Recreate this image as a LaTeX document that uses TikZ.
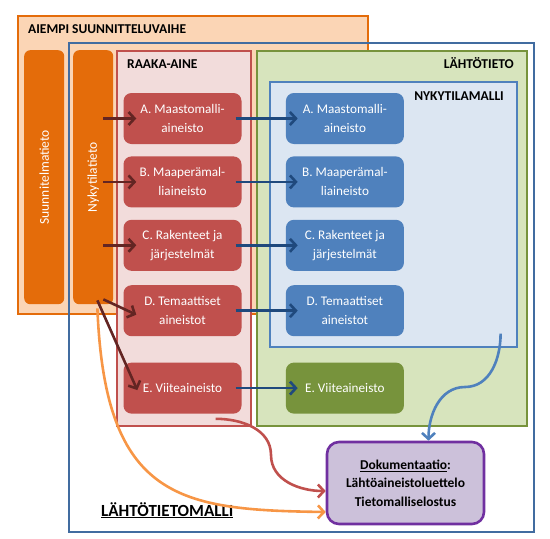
\documentclass[tikz,border=0pt]{standalone}
\usepackage{fontspec}
\setmainfont{Carlito}
\usepackage{xcolor}
\usetikzlibrary{positioning}
\usetikzlibrary{arrows.meta}
\definecolor{aiempi1}{RGB}{251, 213, 181}
\definecolor{aiempi2}{RGB}{228, 108, 10}
\definecolor{raaka1}{RGB}{242, 220, 219}
\definecolor{raaka2}{RGB}{192, 80, 77}
\definecolor{lahto1}{RGB}{215, 228, 189}
\definecolor{lahto2}{RGB}{119, 147, 60}
\definecolor{nyky1}{RGB}{220, 230, 242}
\definecolor{nyky2}{RGB}{79, 129, 189}
\definecolor{malli2}{RGB}{65, 108, 160}
\definecolor{doku1}{RGB}{204, 193, 218}
\definecolor{doku2}{RGB}{112, 48, 160}
\definecolor{arrred}{RGB}{99, 37, 35}
\definecolor{arrblue}{RGB}{31, 73, 125}
\definecolor{arrorange}{RGB}{247, 150, 70}
\tikzstyle{frame} = [
	anchor=north west,
	inner sep=0pt
]
\tikzstyle{title} = [
	inner sep=0pt,
	font=\bfseries\fontsize{13.5}{15}\selectfont
]
\tikzstyle{bar} = [
	frame,
	fill=aiempi2,
	rounded corners=6pt,
	minimum width=40pt,
	minimum height=254pt,
	text=white,
	font=\fontsize{13.5}{15}\selectfont
]
\tikzstyle{redbox} = [
	fill=raaka2,
	rounded corners=8pt,
	minimum width=118pt,
	minimum height=51pt,
	align=center,
	text=white,
	font=\fontsize{13.2}{19}\selectfont
]
\tikzstyle{bluebox} = [
	redbox,
	fill=nyky2
]
\tikzstyle{greenbox} = [
	redbox,
	fill=lahto2
]
\tikzstyle{feed} = [
	line width=2.6pt,
	-{Straight Barb[length=6pt,width=13pt]}
]

\begin{document}
\begin{tikzpicture}[x=1pt, y=-1pt, node distance=12pt and 44pt]
	\useasboundingbox (0,0) rectangle (550,539);
	
	%
	% Frames
	\node[frame, fill=aiempi1, draw=aiempi2, line width=2.2pt, minimum width=350pt, minimum height=298pt] (aiempi) at (17,15) {};
	\node[title, anchor=base west] (aiempiT) at (28,33) {AIEMPI SUUNNITTELUVAIHE};
	\node[frame, draw=malli2, line width=2.2pt, minimum width=465pt, minimum height=489pt] (malli) at (68,42) {};
	\node[bar] (suun) at (24,50) {\rotatebox{90}{Suunnitelmatieto}};
	\node[bar] (nyky) at (73,50) {\rotatebox{90}{Nykytilatieto}};
	\node[frame, fill=raaka1, draw=raaka2, line width=1.6pt, minimum width=134pt, minimum height=375pt] (raaka) at (116,50) {};
	\node[title, anchor=base west] (raakaT) at (127,68) {RAAKA-AINE};
	\node[frame, fill=lahto1, draw=lahto2, line width=2.2pt, minimum width=270pt, minimum height=375pt] (lahto) at (256,50) {};
	\node[title, anchor=base east] (lahtoT) at (514,68) {LÄHTÖTIETO};
	\node[frame, fill=nyky1, draw=nyky2, line width=1.6pt, minimum width=247pt, minimum height=265pt] (nykymalli) at (269,81) {};
	\node[title, anchor=base east] (nykymalliT) at (504,100) {NYKYTILAMALLI};
	
	% Raaka-aine boxes
	\node[redbox] (rA) at (182.5,118.5) {A. Maastomalli-\\aineisto};
	\node[redbox, below=of rA] (rB) {B. Maaperämal-\\liaineisto};
	\node[redbox, below=of rB] (rC) {C. Rakenteet ja\\järjestelmät};
	\node[redbox, below=14pt of rC] (rD) {D. Temaattiset\\aineistot};
	\node[redbox, below=26pt of rD] (rE) {E. Viiteaineisto};
	
	% Nykytilamalli boxes
	\node[bluebox, right=of rA] (bA) {A. Maastomalli-\\aineisto};
	\node[bluebox, right=of rB] (bB) {B. Maaperämal-\\liaineisto};
	\node[bluebox, right=of rC] (bC) {C. Rakenteet ja\\järjestelmät};
	\node[bluebox, right=of rD] (bD) {D. Temaattiset\\aineistot};
	\node[greenbox, right=of rE] (gE) {E. Viiteaineisto};
	
	% Dokumentaatio
	\node[fill=doku1, draw=doku2, line width=2.6pt, rounded corners=12pt, minimum width=157pt, minimum height=82pt, align=center, font=\bfseries\fontsize{13.5}{18.5}\selectfont] (doku) at (405.5,483) {\underline{Dokumentaatio}:\\Lähtöaineistoluettelo\\Tietomalliselostus};
	\node[inner sep=0pt, anchor=base west, font=\bfseries\fontsize{17}{20}\selectfont] (malliT) at (101,516) {\underline{LÄHTÖTIETOMALLI}};
	
	% Nykytilatieto -> raaka-aine
	\foreach \n in {A,B,C} {
		\draw[feed, arrred] ([xshift=-10pt]nyky.east |- r\n.west) -- ([xshift=13pt]r\n.west);
	}
	\draw[feed, arrred] ([shift={(-10,-5)}]nyky.south east) -- ([shift={(13,4)}]rD.west);
	\draw[feed, arrred] ([shift={(-16,-4)}]nyky.south east) -- ([shift={(14,2)}]rE.west);
	
	% Raaka-aine -> lahtotieto
	\foreach \n in {A,B,C,D} {
		\draw[feed, arrblue] ([xshift=-6pt]r\n.east) -- ([xshift=12pt]b\n.west);
	}
	\draw[feed, arrblue] ([xshift=-6pt]rE.east) -- ([xshift=12pt]gE.west);
	
	% Curves to dokumentaatio
	\coordinate (nykyOut) at ([shift={(-17,-14)}]nykymalli.south east);
	\draw[feed, nyky2] (nykyOut) to[out=-90, in=0] (465,387) to[out=180, in=90] ([xshift=23pt]doku.north);
	\coordinate (raakaOut) at ([shift={(-26,5)}]rE.south east);
	\draw[feed, raaka2] (raakaOut) to[out=0, in=90] (271,455) to[out=-90, in=180] ([yshift=-8pt]doku.west);
	\coordinate (nykyDown) at ([shift={(-16,4)}]nyky.south east);
	\draw[feed, arrorange] (nykyDown) .. controls (105,500) and (180,510) .. ([yshift=-29pt]doku.west);
	
\end{tikzpicture}
\end{document}
